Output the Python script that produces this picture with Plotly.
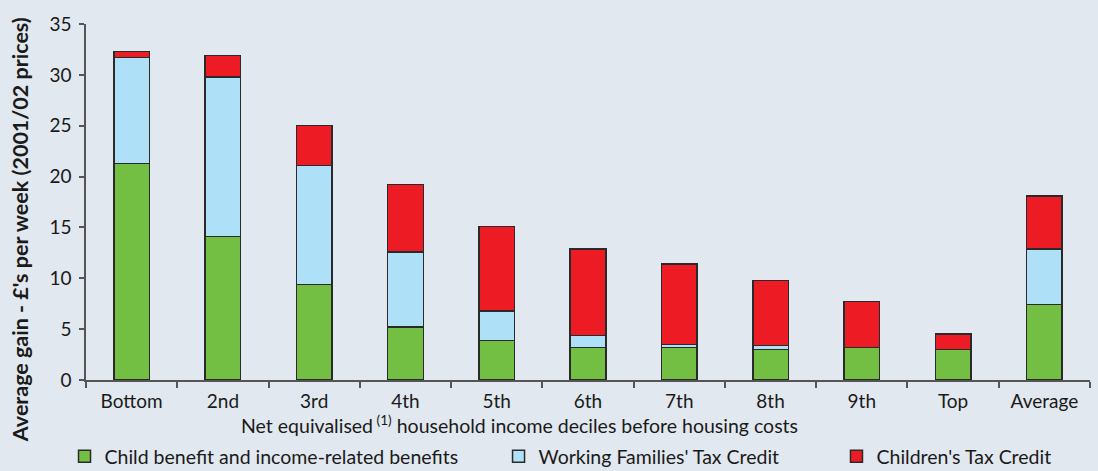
import plotly.graph_objects as go

categories = ["Bottom", "2nd", "3rd", "4th", "5th", "6th", "7th", "8th", "9th", "Top", "Average"]
child_benefit = [21.3, 14.1, 9.4, 5.2, 3.9, 3.2, 3.2, 3.0, 3.2, 3.0, 7.4]
wftc = [10.4, 15.7, 11.7, 7.4, 2.9, 1.2, 0.3, 0.4, 0.0, 0.0, 5.5]
ctc = [0.6, 2.1, 3.9, 6.6, 8.3, 8.5, 7.9, 6.4, 4.5, 1.5, 5.2]

BG = "#e1e8ef"
FONT = "Lato"
TXT = "#1a1a1a"
line = dict(color="#2a2a2a", width=1.5)

fig = go.Figure()
fig.add_trace(go.Bar(x=categories, y=child_benefit, name="Child benefit and income-related benefits",
                     marker=dict(color="#72bf44", line=line), legend="legend2"))
fig.add_trace(go.Bar(x=categories, y=wftc, name="Working Families' Tax Credit",
                     marker=dict(color="#aee0f8", line=line), legend="legend3"))
fig.add_trace(go.Bar(x=categories, y=ctc, name="Children's Tax Credit",
                     marker=dict(color="#ed1c24", line=line), legend="legend4"))

leg_common = dict(orientation="h", yanchor="middle", y=-0.215, xanchor="left",
                  bgcolor="rgba(0,0,0,0)", font=dict(family=FONT, size=19.5, color=TXT),
                  itemwidth=30)

fig.update_layout(
    width=1098, height=471,
    paper_bgcolor=BG, plot_bgcolor=BG,
    barmode="stack", bargap=0.61,
    margin=dict(l=86, r=8, t=24, b=91, autoexpand=False),
    font=dict(family=FONT, size=19, color=TXT),
    legend2=dict(leg_common, x=-0.0214),
    legend3=dict(leg_common, x=0.4109),
    legend4=dict(leg_common, x=0.7475),
    xaxis=dict(
        showline=True, linecolor="#555555", linewidth=1.5,
        ticks="outside", tickson="boundaries", ticklen=6, tickcolor="#555555", tickwidth=1.5,
        tickfont=dict(family=FONT, size=19, color=TXT), ticklabelstandoff=3,
        showgrid=False,
    ),
    yaxis=dict(
        range=[0, 35], dtick=5,
        showline=True, linecolor="#555555", linewidth=1.5,
        ticks="outside", ticklen=5, tickcolor="#555555", tickwidth=1.5,
        tickfont=dict(family=FONT, size=19, color=TXT), ticklabelstandoff=4,
        showgrid=False, zeroline=False,
    ),
    annotations=[
        dict(text="Net equivalised<sup> (1)</sup> household income deciles before housing costs",
             xref="paper", yref="paper", x=0.432, y=-0.126, xanchor="center", yanchor="middle",
             showarrow=False, font=dict(family=FONT, size=19.5, color=TXT)),
        dict(text="<b>Average gain - £'s per week (2001/02 prices)</b>",
             xref="paper", yref="paper", x=-0.0657, y=0.421, xanchor="center", yanchor="middle",
             textangle=-90, showarrow=False, font=dict(family=FONT, size=21.5, color=TXT)),
    ],
)

fig.write_html("out.html", config={"displayModeBar": False},
               post_script="document.body.style.margin='0';document.body.style.overflow='hidden';")
